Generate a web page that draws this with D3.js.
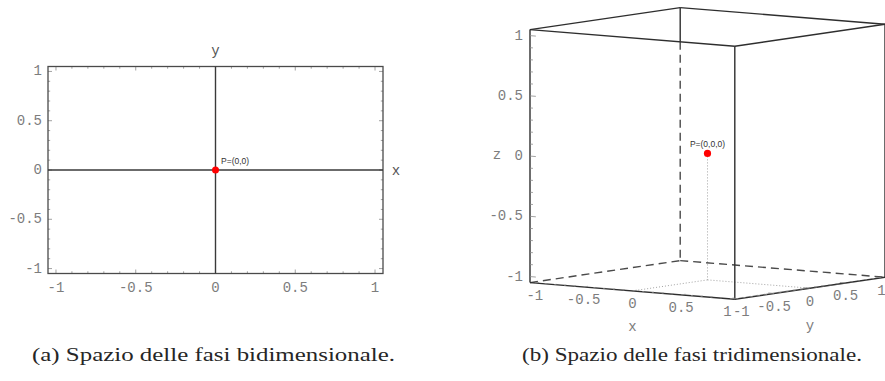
<!DOCTYPE html>
<html>
<head>
<meta charset="utf-8">
<script src="https://cdn.jsdelivr.net/npm/d3@7"></script>
<style>
  body { margin: 0; background: #fff; }
  svg { display: block; }
</style>
</head>
<body>
<script>
// ---- data -------------------------------------------------------------
const planeTicks = [-1, -0.5, 0, 0.5, 1];
const planeTickLabels = ["-1", "-0.5", "0", "0.5", "1"];
const planePoints = [{ x: 0, y: 0, label: "P=(0,0)" }];

const spaceTicks = [-1, -0.5, 0, 0.5, 1];
const spaceTickLabels = ["-1", "-0.5", "0", "0.5", "1"];
const spacePoints = [{ x: 0, y: 0, z: 0, label: "P=(0,0,0)" }];

const captions = [
  "(a) Spazio delle fasi bidimensionale.",
  "(b) Spazio delle fasi tridimensionale."
];

const extent = 1.05;          // plot range including padding
const minorTicks = d3.range(-10, 11).map(i => i / 10);

// ---- styles -------------------------------------------------------------
const W = 885, H = 381;
const monoFont = "'Liberation Mono', 'Courier New', monospace";
const labelColor = "#7d7d7d";
const lineColor = "#3a3a3a";

const svg = d3.select("body").append("svg")
  .attr("width", W).attr("height", H);

// =======================================================================
// (a) plane
// =======================================================================
const x2 = d3.scaleLinear().domain([-extent, extent]).range([48, 383]);
const y2 = d3.scaleLinear().domain([-extent, extent]).range([273.5, 66.5]);

const plane = svg.append("g");

// frame ticks on all four sides (pointing inward)
const tickLen = v => (planeTicks.includes(v) ? 4 : 2.2);
const tickG = plane.append("g").attr("stroke", "#8a8a8a").attr("stroke-width", 0.8);
minorTicks.forEach(v => {
  const L = tickLen(v);
  tickG.append("line").attr("x1", x2(v)).attr("x2", x2(v))
    .attr("y1", y2(-extent)).attr("y2", y2(-extent) - L);
  tickG.append("line").attr("x1", x2(v)).attr("x2", x2(v))
    .attr("y1", y2(extent)).attr("y2", y2(extent) + L);
  tickG.append("line").attr("y1", y2(v)).attr("y2", y2(v))
    .attr("x1", x2(-extent)).attr("x2", x2(-extent) + L);
  tickG.append("line").attr("y1", y2(v)).attr("y2", y2(v))
    .attr("x1", x2(extent)).attr("x2", x2(extent) - L);
});

// frame
plane.append("rect")
  .attr("x", x2(-extent)).attr("y", y2(extent))
  .attr("width", x2(extent) - x2(-extent))
  .attr("height", y2(-extent) - y2(extent))
  .attr("fill", "none").attr("stroke", "#4a4a4a").attr("stroke-width", 1.3);

// coordinate axes through the origin
plane.append("line")
  .attr("x1", x2(-extent)).attr("x2", x2(extent))
  .attr("y1", y2(0)).attr("y2", y2(0))
  .attr("stroke", lineColor).attr("stroke-width", 1.4);
plane.append("line")
  .attr("x1", x2(0)).attr("x2", x2(0))
  .attr("y1", y2(-extent)).attr("y2", y2(extent))
  .attr("stroke", lineColor).attr("stroke-width", 1.4);

// tick labels
plane.append("g").selectAll("text").data(planeTicks).join("text")
  .attr("x", d => x2(d)).attr("y", y2(-extent) + 14)
  .attr("text-anchor", "middle").attr("dominant-baseline", "central")
  .attr("font-family", monoFont).attr("font-size", 14)
  .attr("fill", labelColor)
  .text((d, i) => planeTickLabels[i]);
plane.append("g").selectAll("text").data(planeTicks).join("text")
  .attr("x", x2(-extent) - 6).attr("y", d => y2(d))
  .attr("text-anchor", "end").attr("dominant-baseline", "central")
  .attr("font-family", monoFont).attr("font-size", 14)
  .attr("fill", labelColor)
  .text((d, i) => planeTickLabels[i]);

// axis names
plane.append("text").attr("x", x2(0)).attr("y", y2(extent) - 16)
  .attr("text-anchor", "middle").attr("dominant-baseline", "central")
  .attr("font-family", monoFont).attr("font-size", 14).attr("fill", "#555")
  .text("y");
plane.append("text").attr("x", x2(extent) + 13).attr("y", y2(0) + 1)
  .attr("text-anchor", "middle").attr("dominant-baseline", "central")
  .attr("font-family", monoFont).attr("font-size", 14).attr("fill", "#555")
  .text("x");

// the point
plane.selectAll("circle").data(planePoints).join("circle")
  .attr("cx", d => x2(d.x)).attr("cy", d => y2(d.y))
  .attr("r", 3.5).attr("fill", "#ff0000");
plane.selectAll("text.pt").data(planePoints).join("text")
  .attr("class", "pt")
  .attr("x", d => x2(d.x) + 5.5).attr("y", d => y2(d.y) - 6)
  .attr("font-family", "'Liberation Sans', Arial, sans-serif")
  .attr("font-size", 8.5).attr("fill", "#333")
  .text(d => d.label);

// =======================================================================
// (b) space: box viewed in oblique (affine) projection
// =======================================================================
const u = d3.scaleLinear().domain([-extent, extent]).range([-1, 1]);
const origin = [707.5, 153.4];
const axisVec = { x: [102.4, 8.3], y: [75.1, -11.0], z: [0, -126.5] };

function project(x, y, z) {
  return [
    origin[0] + u(x) * axisVec.x[0] + u(y) * axisVec.y[0] + u(z) * axisVec.z[0],
    origin[1] + u(x) * axisVec.x[1] + u(y) * axisVec.y[1] + u(z) * axisVec.z[1]
  ];
}

const e = extent;
const C = {
  lb: project(-e, -e, -e), fb: project(e, -e, -e),
  rb: project(e, e, -e),   bb: project(-e, e, -e),
  lt: project(-e, -e, e),  ft: project(e, -e, e),
  rt: project(e, e, e),    bt: project(-e, e, e)
};

const space = svg.append("g");
const seg = (g, a, b) => g.append("line")
  .attr("x1", a[0]).attr("y1", a[1]).attr("x2", b[0]).attr("y2", b[1]);

// guide lines from the point down to the floor and to the floor edges
const dotG = space.append("g")
  .attr("stroke", "#8c8c8c").attr("stroke-width", 0.8)
  .attr("stroke-dasharray", "1,2");
spacePoints.forEach(p => {
  seg(dotG, project(p.x, p.y, p.z), project(p.x, p.y, -e));
  seg(dotG, project(p.x, p.y, -e), project(p.x, -e, -e));
  seg(dotG, project(p.x, p.y, -e), project(e, p.y, -e));
});

// hidden edges (dashed)
const dashG = space.append("g")
  .attr("stroke", "#4a4a4a").attr("stroke-width", 1.4)
  .attr("stroke-dasharray", "8,5");
// back vertical edge: visible above the front-left top edge, dashed below
const tCross = (C.bt[0] - C.lt[0]) / (C.ft[0] - C.lt[0]);
const cross = [C.bt[0], C.lt[1] + tCross * (C.ft[1] - C.lt[1])];
seg(dashG, cross, C.bb);
seg(dashG, C.lb, C.bb);
seg(dashG, C.bb, C.rb);

// visible edges
const solidG = space.append("g")
  .attr("stroke", "#2e2e2e").attr("stroke-width", 1.4);
seg(solidG, C.bt, cross);
seg(solidG, C.lt, C.bt);
seg(solidG, C.bt, C.rt);
seg(solidG, C.rt, C.ft);
seg(solidG, C.ft, C.lt);
seg(solidG, C.lt, C.lb);
seg(solidG, C.ft, C.fb);
seg(solidG, C.rt, C.rb);
seg(solidG, C.lb, C.fb);
seg(solidG, C.fb, C.rb);

// ticks along the labelled edges
const t3 = space.append("g").attr("stroke", "#8a8a8a").attr("stroke-width", 0.8);
minorTicks.forEach(v => {
  const L = spaceTicks.includes(v) ? 0.06 : 0.03;
  seg(t3, project(-e, -e, v), project(-e + L, -e, v));          // z edge
  seg(t3, project(v, -e, -e), project(v, -e + L, -e));          // x edge
  seg(t3, project(e, v, -e), project(e - L, v, -e));            // y edge
});

// tick labels; the labels at the shared front corner are pushed apart a little
const lab3 = space.append("g")
  .attr("font-family", monoFont).attr("font-size", 14).attr("fill", labelColor)
  .attr("dominant-baseline", "central");
lab3.selectAll("text.z").data(spaceTicks).join("text").attr("class", "z")
  .attr("x", d => project(-e, -e, d)[0] - 7)
  .attr("y", d => project(-e, -e, d)[1])
  .attr("text-anchor", "end")
  .text((d, i) => spaceTickLabels[i]);
lab3.selectAll("text.x").data(spaceTicks).join("text").attr("class", "x")
  .attr("x", (d, i) => project(d, -e, -e)[0] - (i === spaceTicks.length - 1 ? 2.5 : 0))
  .attr("y", d => project(d, -e, -e)[1] + 13.5)
  .attr("text-anchor", "middle")
  .text((d, i) => spaceTickLabels[i]);
lab3.selectAll("text.y").data(spaceTicks).join("text").attr("class", "y")
  .attr("x", (d, i) => project(e, d, -e)[0] + (i === 0 ? 3 : 0))
  .attr("y", d => project(e, d, -e)[1] + 13.5)
  .attr("text-anchor", "middle")
  .text((d, i) => spaceTickLabels[i]);

// axis names
const zPos = project(-e, -e, 0), xPos = project(0, -e, -e), yPos = project(e, 0, -e);
lab3.append("text").attr("x", zPos[0] - 33).attr("y", zPos[1] - 1)
  .attr("text-anchor", "middle").text("z");
lab3.append("text").attr("x", xPos[0]).attr("y", xPos[1] + 36.5)
  .attr("text-anchor", "middle").text("x");
lab3.append("text").attr("x", yPos[0]).attr("y", yPos[1] + 37.5)
  .attr("text-anchor", "middle").text("y");

// the point
space.selectAll("circle").data(spacePoints).join("circle")
  .attr("cx", d => project(d.x, d.y, d.z)[0])
  .attr("cy", d => project(d.x, d.y, d.z)[1])
  .attr("r", 3.6).attr("fill", "#ff0000");
space.selectAll("text.pt").data(spacePoints).join("text")
  .attr("class", "pt")
  .attr("x", d => project(d.x, d.y, d.z)[0])
  .attr("y", d => project(d.x, d.y, d.z)[1] - 6)
  .attr("text-anchor", "middle")
  .attr("font-family", "'Liberation Sans', Arial, sans-serif")
  .attr("font-size", 8.5).attr("fill", "#333")
  .text(d => d.label);

// =======================================================================
// captions
// =======================================================================
const capX = [213.5, 692];
svg.append("g").selectAll("text").data(captions).join("text")
  .attr("x", (d, i) => capX[i]).attr("y", 361)
  .attr("text-anchor", "middle")
  .attr("font-family", "'Liberation Serif', 'DejaVu Serif', serif")
  .attr("font-size", 18).attr("fill", "#262626")
  .attr("textLength", (d, i) => (i === 0 ? 363 : 340))
  .attr("lengthAdjust", "spacingAndGlyphs")
  .text(d => d);
</script>
</body>
</html>
